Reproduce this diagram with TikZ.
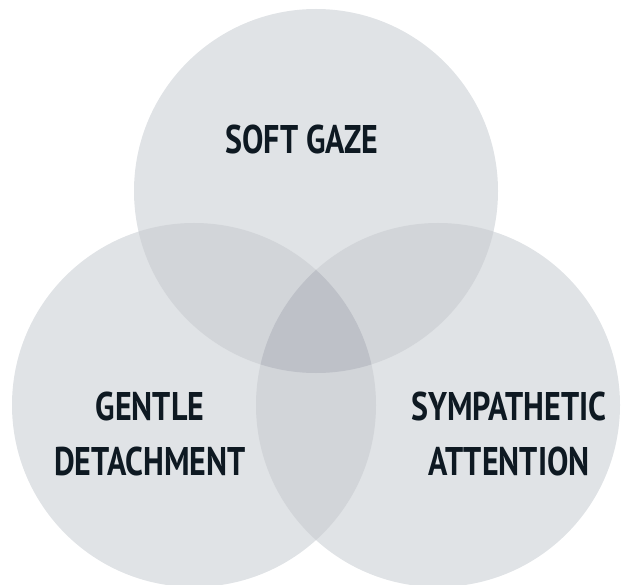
\documentclass[tikz,border=0pt]{standalone}
\usepackage{fontspec}
\setmainfont{PT Sans}[FakeStretch=0.8]
\definecolor{cone}{HTML}{E0E3E6}
\definecolor{ctwo}{HTML}{D2D5D9}
\definecolor{cthree}{HTML}{BEC1C8}
\definecolor{ink}{HTML}{0E1922}
\tikzset{
  lbl/.style={text=ink, font=\bfseries\fontsize{40}{55}\selectfont, align=center, inner sep=0pt}
}
\begin{document}
\begin{tikzpicture}[x=1pt,y=-1pt]
\useasboundingbox (0,0) rectangle (623,585);
\def\topc{(316,191) circle[radius=182pt]}
\def\leftc{(194,405) circle[radius=182pt]}
\def\rightc{(438,405) circle[radius=182pt]}
\fill[cone] \topc;
\fill[cone] \leftc;
\fill[cone] \rightc;
\begin{scope}
  \clip \topc;
  \fill[ctwo] \leftc;
  \fill[ctwo] \rightc;
\end{scope}
\begin{scope}
  \clip \leftc;
  \fill[ctwo] \rightc;
\end{scope}
\begin{scope}
  \clip \topc;
  \clip \leftc;
  \fill[cthree] \rightc;
\end{scope}
\node[lbl] (soft) at (302,140) {SOFT GAZE};
\node[lbl] (gentle) at (150,433.5) {GENTLE\\DETACHMENT};
\node[lbl] (symp) at (509,433.5) {SYMPATHETIC\\ATTENTION};
\end{tikzpicture}
\end{document}
